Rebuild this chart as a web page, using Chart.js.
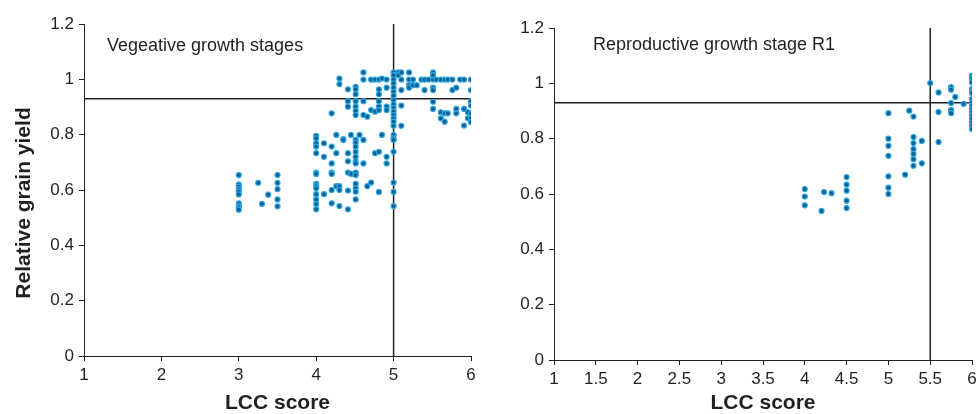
<!DOCTYPE html>
<html>
<head>
<meta charset="utf-8">
<script src="https://cdn.jsdelivr.net/npm/chart.js@4"></script>
<style>
  body { margin: 0; background: #fff; }
  #page { position: relative; width: 979px; height: 414px; }
  #gauche { position: absolute; left: 0; top: 0; }
  #droite { position: absolute; left: 490px; top: 0; }
</style>
</head>
<body>
<div id="page">
  <canvas id="gauche" width="490" height="414"></canvas>
  <canvas id="droite" width="489" height="414"></canvas>
</div>
<script>
// <données> : score LCC (x) et rendement relatif (y) par colonne
const vegScores = [3, 3.25, 3.3, 3.38, 3.5, 4, 4.1, 4.2, 4.26, 4.3, 4.35, 4.41, 4.45, 4.51, 4.56, 4.61, 4.66, 4.71, 4.76, 4.81, 4.85, 4.91, 5, 5.06, 5.1, 5.2, 5.25, 5.3, 5.36, 5.4, 5.45, 5.51, 5.55, 5.61, 5.66, 5.7, 5.76, 5.81, 5.86, 5.91, 5.96, 6];
const vegYields = [
  [0.654, 0.62, 0.612, 0.602, 0.594, 0.584, 0.552, 0.543, 0.536, 0.529],
  [0.626],
  [0.55],
  [0.583],
  [0.654, 0.626, 0.603, 0.566, 0.541],
  [0.796, 0.787, 0.769, 0.757, 0.733, 0.663, 0.658, 0.622, 0.614, 0.606, 0.585, 0.566, 0.549, 0.53],
  [0.769, 0.72, 0.585],
  [0.877, 0.757, 0.696, 0.663, 0.658, 0.6, 0.552],
  [0.799, 0.733, 0.614],
  [1.003, 0.983, 0.614, 0.6, 0.542],
  [0.784, 0.781],
  [0.964, 0.921, 0.901, 0.733, 0.704, 0.663, 0.598, 0.53],
  [0.799, 0.658],
  [0.973, 0.964, 0.946, 0.921, 0.901, 0.886, 0.871, 0.781, 0.771, 0.757, 0.738, 0.72, 0.704, 0.696, 0.663, 0.654, 0.622, 0.606, 0.594, 0.566],
  [0.799],
  [1.025, 0.999, 0.921, 0.871, 0.781, 0.696],
  [0.865, 0.614],
  [0.999, 0.889, 0.627],
  [0.999, 0.883, 0.733],
  [0.999, 0.964, 0.946, 0.921, 0.901, 0.889, 0.738, 0.593],
  [1.003, 0.799],
  [0.999, 0.97, 0.901, 0.889, 0.72, 0.696],
  [1.025, 1.015, 0.999, 0.985, 0.97, 0.955, 0.941, 0.925, 0.909, 0.897, 0.883, 0.871, 0.859, 0.847, 0.832, 0.799, 0.787, 0.781, 0.738, 0.627, 0.593, 0.542],
  [1.025, 1.015],
  [1.025, 0.999, 0.961, 0.905, 0.832],
  [1.025, 0.999, 0.979, 0.97],
  [0.999, 0.979],
  [0.979],
  [0.999],
  [0.999, 0.961],
  [0.999],
  [1.025, 1.015, 0.999, 0.97, 0.961, 0.919, 0.893],
  [0.999],
  [0.999, 0.881, 0.859],
  [0.999, 0.877, 0.847],
  [0.999, 0.877],
  [0.999, 0.961],
  [0.97, 0.893, 0.877],
  [0.999],
  [0.999, 0.893, 0.833],
  [0.881, 0.859],
  [0.999, 0.961, 0.921, 0.905, 0.877, 0.859, 0.845]
];

const r1Scores = [4, 4.2, 4.23, 4.32, 4.5, 5, 5.2, 5.25, 5.3, 5.4, 5.5, 5.6, 5.75, 5.8, 5.9, 6];
const r1Yields = [
  [0.618, 0.591, 0.559],
  [0.539],
  [0.607],
  [0.603],
  [0.661, 0.634, 0.612, 0.576, 0.549],
  [0.892, 0.8, 0.774, 0.738, 0.664, 0.623, 0.6],
  [0.67],
  [0.901],
  [0.88, 0.806, 0.784, 0.762, 0.745, 0.726, 0.702],
  [0.792, 0.711],
  [1.001],
  [0.967, 0.896, 0.788],
  [0.986, 0.977, 0.929, 0.904, 0.892],
  [0.951],
  [0.926],
  [1.027, 1.019, 1.01, 1.003, 0.979, 0.97, 0.965, 0.943, 0.931, 0.919, 0.907, 0.895, 0.883, 0.871, 0.858, 0.846, 0.835]
];

const seuilVeg = 5; // ligne verticale graphique gauche
const seuilR1 = 5.5; // ligne verticale graphique droit
const seuilRendement = 0.93; // ligne horizontale
const axeX = [1, 6];
const axeY = [0, 1.2];
// </données>

const police = '"Liberation Sans", Arial, sans-serif';
const couleurTexte = "#231f20";

function toPoints(scores, yields) {
  // transforme les colonnes en points {x, y}
  let pts = [];
  for (let i = 0; i < scores.length; i++) {
    yields[i].forEach(function (v) {
      pts.push({ x: scores[i], y: v });
    });
  }
  return pts;
}

function etiquette(value) {
  // "1" au lieu de "1.0"
  return String(Number(value.toFixed(2)));
}

// plugin maison : titre de l'axe Y et texte dans le graphique
const textes = {
  id: "textes",
  afterDraw(chart, args, opts) {
    const ctx = chart.ctx;
    ctx.save();
    ctx.fillStyle = couleurTexte;
    ctx.textBaseline = "middle";
    ctx.textAlign = "left";
    ctx.font = "18px " + police;
    ctx.fillText(opts.label, opts.x, opts.y);
    if (opts.titreY) {
      ctx.font = "bold 21px " + police;
      ctx.textAlign = "center";
      ctx.translate(opts.titreX, opts.titreYpos);
      ctx.rotate(-Math.PI / 2);
      ctx.fillText(opts.titreY, 0, 0);
    }
    ctx.restore();
  },
};

function makeConfig(points, seuil, pas, padding, largeurY, hauteurX, texte) {
  return {
    type: "scatter",
    data: {
      datasets: [
        {
          data: points,
          pointRadius: 2.5,
          backgroundColor: "#0b5f92",
          borderColor: "#2fa6e0",
          borderWidth: 1.2,
          order: 1,
        },
        {
          // ligne verticale
          data: [{ x: seuil, y: axeY[0] }, { x: seuil, y: axeY[1] }],
          showLine: true,
          pointRadius: 0,
          borderColor: couleurTexte,
          borderWidth: 1.5,
          order: 2,
        },
        {
          // ligne horizontale
          data: [{ x: axeX[0], y: seuilRendement }, { x: axeX[1], y: seuilRendement }],
          showLine: true,
          pointRadius: 0,
          borderColor: couleurTexte,
          borderWidth: 1.5,
          order: 2,
        },
      ],
    },
    options: {
      responsive: false,
      animation: false,
      devicePixelRatio: 1,
      layout: { padding: padding },
      plugins: {
        legend: false,
        tooltip: { enabled: false },
        textes: texte,
      },
      scales: {
        x: {
          type: "linear",
          min: axeX[0],
          max: axeX[1],
          afterFit: function (s) {
            s.height = hauteurX;
            s.paddingRight = 0; // la marge droite vient du layout
          },
          ticks: {
            stepSize: pas,
            color: couleurTexte,
            font: { family: police, size: 17 },
            padding: 4,
            maxRotation: 0,
            callback: etiquette,
          },
          grid: { drawOnChartArea: false, drawTicks: true, tickLength: 5, color: couleurTexte },
          border: { color: couleurTexte, width: 1 },
          title: {
            display: true,
            text: "LCC score",
            color: couleurTexte,
            font: { family: police, size: 21, weight: "bold" },
            padding: { top: 0, bottom: -2 },
          },
        },
        y: {
          min: axeY[0],
          max: axeY[1],
          afterFit: function (s) {
            s.width = largeurY;
          },
          ticks: {
            stepSize: 0.2,
            color: couleurTexte,
            font: { family: police, size: 17 },
            padding: 5,
            callback: etiquette,
          },
          grid: { drawOnChartArea: false, drawTicks: true, tickLength: 5, color: couleurTexte },
          border: { color: couleurTexte, width: 1 },
        },
      },
    },
    plugins: [textes],
  };
}

// graphique de gauche : stades végétatifs
let chartVeg = new Chart(
  document.getElementById("gauche").getContext("2d"),
  makeConfig(toPoints(vegScores, vegYields), seuilVeg, 1, { top: 24, right: 19, left: 0, bottom: 0 }, 84, 58, {
    label: "Vegeative growth stages",
    x: 107,
    y: 46,
    titreY: "Relative grain yield",
    titreX: 24,
    titreYpos: 203,
  })
);

// graphique de droite : stade R1
let chartR1 = new Chart(
  document.getElementById("droite").getContext("2d"),
  makeConfig(toPoints(r1Scores, r1Yields), seuilR1, 0.5, { top: 28, right: 7, left: 0, bottom: 0 }, 64, 54, {
    label: "Reproductive growth stage R1",
    x: 103,
    y: 45,
  })
);
</script>
</body>
</html>
